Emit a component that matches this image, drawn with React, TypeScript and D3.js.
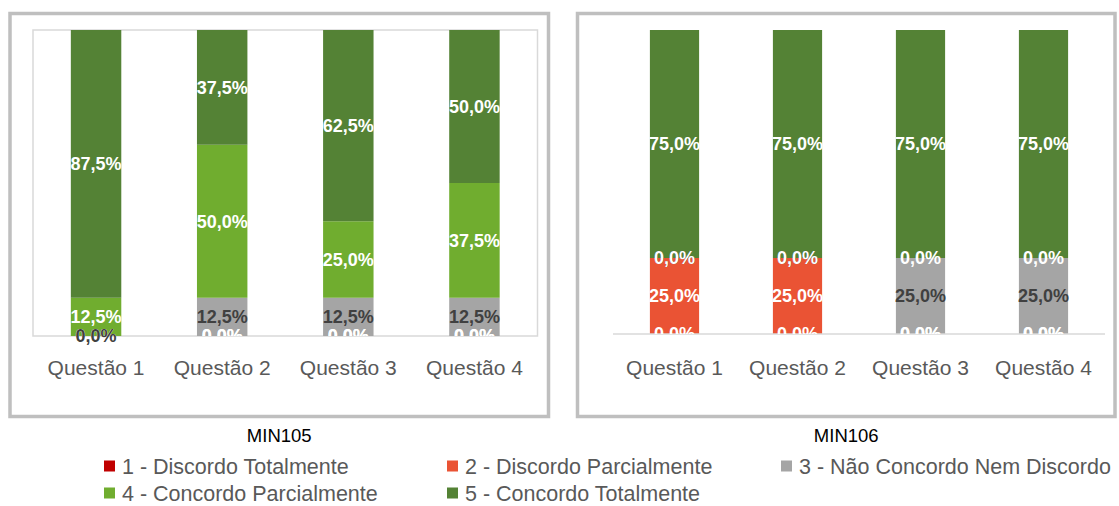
import React from "react";
import * as d3 from "d3";

const categories = ["Questão 1", "Questão 2", "Questão 3", "Questão 4"];
const seriesNames = [
  "1 - Discordo Totalmente",
  "2 - Discordo Parcialmente",
  "3 - Não Concordo Nem Discordo",
  "4 - Concordo Parcialmente",
  "5 - Concordo Totalmente",
];
const seriesColors = ["#c00000", "#ea5334", "#a5a5a5", "#70ad2f", "#548235"];
const labelColors = ["#ffffff", "#ffffff", "#404040", "#ffffff", "#ffffff"];

// MIN105
const min105DiscordoTotalmente = [0, 0, 0, 0];
const min105DiscordoParcialmente = [0, 0, 0, 0];
const min105Neutro = [0, 12.5, 12.5, 12.5];
const min105ConcordoParcialmente = [12.5, 50, 25, 37.5];
const min105ConcordoTotalmente = [87.5, 37.5, 62.5, 50];

// MIN106
const min106DiscordoTotalmente = [0, 0, 0, 0];
const min106DiscordoParcialmente = [25, 25, 0, 0];
const min106Neutro = [0, 0, 25, 25];
const min106ConcordoParcialmente = [0, 0, 0, 0];
const min106ConcordoTotalmente = [75, 75, 75, 75];

const keys = ["s1", "s2", "s3", "s4", "s5"];

function buildRows(arrs: number[][]) {
  return categories.map((c, i) => {
    const r: any = { cat: c };
    keys.forEach((k, j) => (r[k] = arrs[j][i]));
    return r;
  });
}

const charts = [
  {
    id: "c105",
    title: "MIN105",
    rows: buildRows([
      min105DiscordoTotalmente,
      min105DiscordoParcialmente,
      min105Neutro,
      min105ConcordoParcialmente,
      min105ConcordoTotalmente,
    ]),
    box: { x: 10, y: 13.5, w: 538.5, h: 403 },
    plot: { x0: 33, x1: 537.5, y0: 30, y1: 336 },
    frame: true,
  },
  {
    id: "c106",
    title: "MIN106",
    rows: buildRows([
      min106DiscordoTotalmente,
      min106DiscordoParcialmente,
      min106Neutro,
      min106ConcordoParcialmente,
      min106ConcordoTotalmente,
    ]),
    box: { x: 577.5, y: 13.5, w: 537.5, h: 403 },
    plot: { x0: 613, x1: 1105, y0: 30, y1: 334 },
    frame: false,
  },
];

const fmt = (v: number) => v.toFixed(1).replace(".", ",") + "%";
const FONT = "'Liberation Sans', Arial, sans-serif";

function Chart({ c }: { c: any }) {
  const x = d3
    .scaleBand()
    .domain(categories)
    .range([c.plot.x0, c.plot.x1])
    .paddingInner(0.6)
    .paddingOuter(0.3);
  const y = d3.scaleLinear().domain([0, 100]).range([c.plot.y1, c.plot.y0]);
  const stacked = d3.stack().keys(keys)(c.rows);
  const clipId = "clip-" + c.id;
  return (
    <g>
      <defs>
        <clipPath id={clipId}>
          <rect
            x={c.plot.x0 - 20}
            y={c.plot.y0 - 20}
            width={c.plot.x1 - c.plot.x0 + 40}
            height={c.plot.y1 - c.plot.y0 + 20}
          />
        </clipPath>
      </defs>
      <rect
        x={c.box.x}
        y={c.box.y}
        width={c.box.w}
        height={c.box.h}
        fill="#fff"
        stroke="#bfbfbf"
        strokeWidth={3.5}
      />
      {c.frame && (
        <rect
          x={c.plot.x0}
          y={c.plot.y0}
          width={c.plot.x1 - c.plot.x0}
          height={c.plot.y1 - c.plot.y0}
          fill="none"
          stroke="#d9d9d9"
          strokeWidth={1.5}
        />
      )}
      {stacked.map((s, si) =>
        s.map((d, i) => (
          <rect
            key={si + "-" + i}
            x={x(categories[i])}
            y={y(d[1])}
            width={x.bandwidth()}
            height={y(d[0]) - y(d[1])}
            fill={seriesColors[si]}
          />
        ))
      )}
      {!c.frame && (
        <line
          x1={c.plot.x0}
          x2={c.plot.x1}
          y1={c.plot.y1}
          y2={c.plot.y1}
          stroke="#d9d9d9"
          strokeWidth={1.5}
        />
      )}
      {stacked.map((s, si) =>
        s.map((d, i) => (
          <text
            key={"l" + si + "-" + i}
            x={(x(categories[i]) as number) + x.bandwidth() / 2}
            y={(y(d[0]) + y(d[1])) / 2}
            dy="0.36em"
            textAnchor="middle"
            fontFamily={FONT}
            fontWeight="bold"
            fontSize={18}
            fill={labelColors[si]}
            clipPath={si === 2 ? undefined : `url(#${clipId})`}
          >
            {fmt(d[1] - d[0])}
          </text>
        ))
      )}
      {categories.map((cat) => (
        <text
          key={cat}
          x={(x(cat) as number) + x.bandwidth() / 2}
          y={367}
          dy="0.36em"
          textAnchor="middle"
          fontFamily={FONT}
          fontSize={21}
          fill="#595959"
        >
          {cat}
        </text>
      ))}
      <text
        x={c.box.x + c.box.w / 2}
        y={435}
        dy="0.36em"
        textAnchor="middle"
        fontFamily={FONT}
        fontSize={18.5}
        fill="#000"
      >
        {c.title}
      </text>
    </g>
  );
}

const legendPos = [
  { x: 104, y: 466 },
  { x: 447, y: 466 },
  { x: 781, y: 466 },
  { x: 104, y: 493 },
  { x: 447, y: 493 },
];

export default function App() {
  return (
    <svg
      width={1119}
      height={506}
      style={{ position: "absolute", left: 0, top: 0, background: "#fff" }}
    >
      <rect x={0} y={0} width={1119} height={506} fill="#fff" />
      {charts.map((c) => (
        <Chart key={c.id} c={c} />
      ))}
      {seriesNames.map((n, i) => (
        <g key={n}>
          <rect
            x={legendPos[i].x}
            y={legendPos[i].y - 5.5}
            width={11}
            height={11}
            fill={seriesColors[i]}
          />
          <text
            x={legendPos[i].x + 18}
            y={legendPos[i].y}
            dy="0.36em"
            fontFamily={FONT}
            fontSize={21.5}
            fill="#595959"
          >
            {n}
          </text>
        </g>
      ))}
    </svg>
  );
}
